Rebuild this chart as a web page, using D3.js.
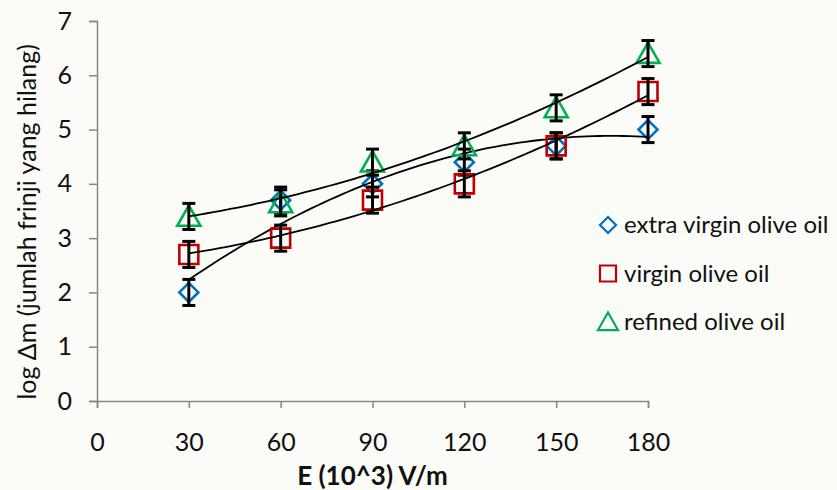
<!DOCTYPE html>
<html>
<head>
<meta charset="utf-8">
<script src="https://cdn.jsdelivr.net/npm/d3@7"></script>
<style>
	body { margin:0; background:#fbfbf7; }
	#chart { width:837px; height:490px; }
	text { font-family: Lato, "Open Sans", sans-serif; fill:#111; }
</style>
</head>
<body>
<div id="chart"></div>
<script>

// data
const xValues = [30, 60, 90, 120, 150, 180];
const extraVirgin = [2.0, 3.7, 4.0, 4.4, 4.7, 5.0];
const virgin = [2.7, 3.0, 3.7, 4.0, 4.7, 5.7];
const refined = [3.4, 3.65, 4.4, 4.7, 5.4, 6.4];
const errorBar = 0.24;
const xTicks = [0, 30, 60, 90, 120, 150, 180];
const yTicks = [0, 1, 2, 3, 4, 5, 6, 7];
const seriesNames = ["extra virgin olive oil", "virgin olive oil", "refined olive oil"];

// least squares quadratic, like the excel trendline
function polyFit(xs, ys){
	let s = [0,0,0,0,0], t = [0,0,0];
	xs.forEach((x,i) => {
		for(let k=0;k<5;k++) s[k] += Math.pow(x,k);
		for(let k=0;k<3;k++) t[k] += ys[i]*Math.pow(x,k);
	});
	const A = [[s[0],s[1],s[2],t[0]],[s[1],s[2],s[3],t[1]],[s[2],s[3],s[4],t[2]]];
	for(let i=0;i<3;i++){
		for(let j=i+1;j<3;j++){
			const f = A[j][i]/A[i][i];
			for(let k=i;k<4;k++) A[j][k] -= f*A[i][k];
		}
	}
	const c = [0,0,0];
	for(let i=2;i>=0;i--){
		let v = A[i][3];
		for(let k=i+1;k<3;k++) v -= A[i][k]*c[k];
		c[i] = v/A[i][i];
	}
	return x => c[0] + c[1]*x + c[2]*x*x;
}

function drawChart(rootDOM){

	const W = 837, H = 490;
	const m = {t:21, l:97};
	const plotW = 551, plotH = 380;

	const series = [
		{name:seriesNames[0], values:extraVirgin, color:"#0070C0", shape:"diamond"},
		{name:seriesNames[1], values:virgin, color:"#C00000", shape:"square"},
		{name:seriesNames[2], values:refined, color:"#00B050", shape:"triangle"}
	];

	const x = d3.scaleLinear().domain([0,180]).range([m.l, m.l+plotW]);
	const y = d3.scaleLinear().domain([0,7]).range([m.t+plotH, m.t]);

	const svg = d3.select(rootDOM).append("svg")
		.attr("width", W)
		.attr("height", H);

	svg.append("rect").attr("width",W).attr("height",H).attr("fill","#fbfbf7");

	// axes
	const xAxis = svg.append("g")
		.attr("transform", `translate(0,${y(0)})`)
		.call(d3.axisBottom(x).tickValues(xTicks).tickSize(7).tickPadding(25));
	const yAxis = svg.append("g")
		.attr("transform", `translate(${x(0)},0)`)
		.call(d3.axisLeft(y).tickValues(yTicks).tickFormat(d3.format("d")).tickSize(8).tickPadding(17));

	[xAxis, yAxis].forEach(a => {
		a.select(".domain").attr("stroke","#868686").attr("stroke-width",1.5);
		a.selectAll(".tick line").attr("stroke","#868686").attr("stroke-width",1.5);
		a.selectAll(".tick text").style("font-size","25px").attr("fill","#111");
	});

	svg.append("text")
		.attr("x", x(90))
		.attr("y", 485)
		.attr("text-anchor","middle")
		.style("font-size","26px")
		.style("font-weight","bold")
		.text("E (10^3) V/m");

	svg.append("text")
		.attr("transform", `translate(36,${y(3.3)}) rotate(-90)`)
		.attr("text-anchor","middle")
		.style("font-size","25px")
		.text("log Δm (jumlah frinji yang hilang)");

	const symbols = {
		diamond: s => `M0,${-s}L${s},0L0,${s}L${-s},0Z`,
		square: s => `M${-s},${-s}H${s}V${s}H${-s}Z`,
		triangle: s => `M0,${-s}L${s*1.05},${s*0.85}L${-s*1.05},${s*0.85}Z`
	};

	const groups = svg.selectAll(".series")
		.data(series)
		.enter()
		.append("g")
		.attr("class","series");

	// markers
	groups.selectAll(".marker")
		.data(d => d.values.map((v,i) => ({x:xValues[i], y:v, s:d})))
		.enter()
		.append("path")
		.attr("class","marker")
		.attr("transform", d => `translate(${x(d.x)},${y(d.y)})`)
		.attr("d", d => symbols[d.s.shape](d.s.shape==="triangle" ? 11 : 9.5))
		.attr("fill","none")
		.attr("stroke", d => d.s.color)
		.attr("stroke-width", 2.6);

	// error bars
	const eb = groups.selectAll(".err")
		.data(d => d.values.map((v,i) => ({x:xValues[i], y:v})))
		.enter()
		.append("g")
		.attr("class","err")
		.attr("stroke","#000")
		.attr("stroke-width",3);
	eb.append("line")
		.attr("x1", d => x(d.x)).attr("x2", d => x(d.x))
		.attr("y1", d => y(d.y-errorBar)).attr("y2", d => y(d.y+errorBar));
	eb.append("line")
		.attr("x1", d => x(d.x)-6.5).attr("x2", d => x(d.x)+6.5)
		.attr("y1", d => y(d.y+errorBar)).attr("y2", d => y(d.y+errorBar));
	eb.append("line")
		.attr("x1", d => x(d.x)-6.5).attr("x2", d => x(d.x)+6.5)
		.attr("y1", d => y(d.y-errorBar)).attr("y2", d => y(d.y-errorBar));

	// trendlines
	const line = d3.line().x(d => x(d[0])).y(d => y(d[1]));
	groups.append("path")
		.attr("d", d => {
			const f = polyFit(xValues, d.values);
			const pts = d3.range(30, 180.01, 2).map(t => [t, f(t)]);
			return line(pts);
		})
		.attr("fill","none")
		.attr("stroke","#000")
		.attr("stroke-width",1.8);

	// legend
	const legend = svg.selectAll(".legend")
		.data(series)
		.enter()
		.append("g")
		.attr("class","legend")
		.attr("transform", (d,i) => `translate(608,${225 + i*48.5})`);
	legend.append("path")
		.attr("d", d => symbols[d.shape](d.shape==="triangle" ? 9.5 : 8))
		.attr("fill","none")
		.attr("stroke", d => d.color)
		.attr("stroke-width",2.2);
	legend.append("text")
		.attr("x", 16)
		.attr("y", 8)
		.style("font-size","24px")
		.text(d => d.name);
}

drawChart(document.getElementById("chart"));
</script>
</body>
</html>
